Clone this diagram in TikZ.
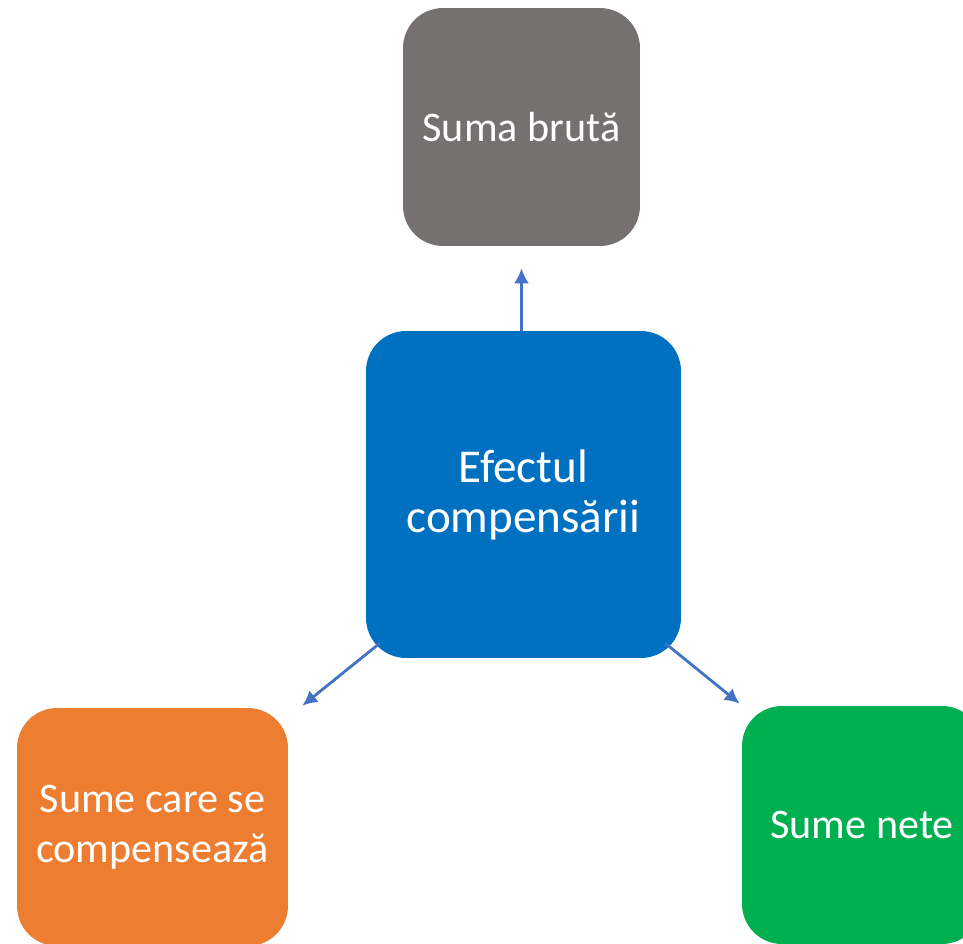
\documentclass[tikz,border=0pt]{standalone}
\usepackage{fontspec}
\setmainfont{Carlito}
\usetikzlibrary{arrows.meta, positioning, calc}

\definecolor{boxgray}{HTML}{767171}
\definecolor{boxblue}{HTML}{0070C0}
\definecolor{boxorange}{HTML}{ED7D31}
\definecolor{boxgreen}{HTML}{00B050}
\definecolor{arrblue}{HTML}{4472C4}

\tikzset{
  box/.style={rectangle, rounded corners=0.8cm, text=white, align=center,
    inner sep=0pt, minimum height=4.76cm, font=\fontsize{24}{28.5}\selectfont},
  arr/.style={-{Latex[length=8.5pt,width=8.5pt]}, arrblue, line width=1.6pt}
}

\begin{document}
\begin{tikzpicture}[x=0.02cm, y=-0.02cm]
          \useasboundingbox (0,0) rectangle (963,943);
          \clip (0,0) rectangle (963,943);
          \node (brut) [box, fill=boxgray, minimum width=4.74cm] at (521.5,127) {Suma brută};
          \node (efect) [box, fill=boxblue, minimum width=6.3cm, minimum height=6.54cm,
            font=\fontsize{26.8}{28.5}\selectfont] at (523.5,494.5) {Efectul\\compensării};
          \node (comp) [box, fill=boxorange, minimum width=5.42cm] at (152.5,827) {Sume care se\\compensează};
          \node (net) [box, fill=boxgreen, minimum width=4.8cm] at (862,825) {Sume nete};
          \draw[arr] (brut.south |- efect.north) -- ([yshift=-0.44cm]brut.south);
          \draw[arr] ([shift={(14,-15)}]efect.south west) -- ([shift={(14,-2)}]comp.north east);
          \draw[arr] ([shift={(-16,-15)}]efect.south east) -- ([shift={(-2,-2)}]net.north west);
      \end{tikzpicture}
\end{document}
